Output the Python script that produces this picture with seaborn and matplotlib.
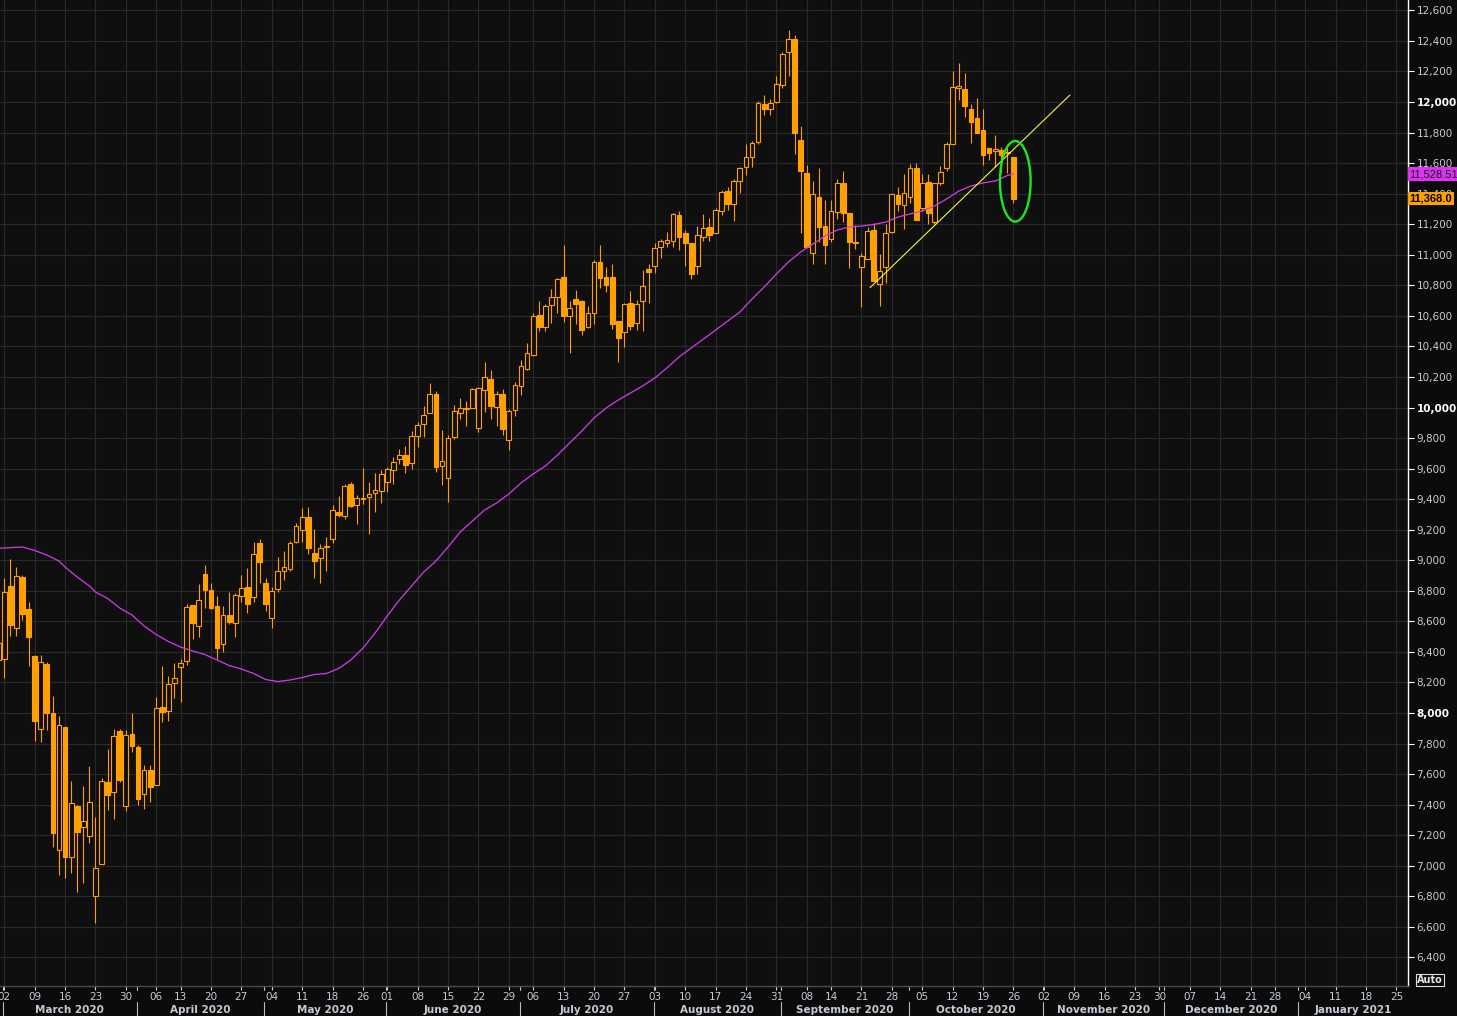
import numpy as np
import pandas as pd
import matplotlib
matplotlib.use("Agg")
import matplotlib.pyplot as plt
import matplotlib.transforms as mtransforms
from matplotlib.patches import Ellipse
import seaborn as sns

# trading calendar (exchange holidays removed)
holidays = ["2020-04-10", "2020-05-25", "2020-07-03", "2020-09-07",
            "2020-11-26", "2020-12-25"]
days = pd.bdate_range("2020-02-28", "2021-01-29")
days = days[~days.isin(pd.to_datetime(holidays))]

# daily OHLC, 28 Feb 2020 -> 26 Oct 2020
opens = [
    8350, 8351, 8831, 8559, 8890, 8681, 8373, 7893, 8321, 8000,
    7103, 7906, 7055, 7391, 7252, 7193, 6800, 7009, 7546, 7481,
    7882, 7393, 7863, 7778, 7472, 7627, 7531, 8039, 8015, 8194,
    8299, 8338, 8705, 8572, 8910, 8805, 8700, 8450, 8639, 8587,
    8764, 8822, 8757, 9111, 8849, 8624, 8810, 8928, 8943, 9117,
    9196, 9281, 9045, 9013, 9085, 9137, 9316, 9288, 9499, 9360,
    9408, 9412, 9438, 9451, 9515, 9589, 9661, 9687, 9639, 9816,
    9890, 9962, 10086, 9615, 9536, 9809, 9962, 9990, 9999, 9868,
    10116, 10184, 10006, 10086, 9785, 9981, 10139, 10254, 10346, 10603,
    10525, 10673, 10726, 10854, 10601, 10708, 10695, 10529, 10621, 10950,
    10854, 10854, 10564, 10492, 10682, 10555, 10699, 10905, 10929, 11053,
    11079, 11092, 11258, 11140, 11075, 10929, 11114, 11180, 11145, 11284,
    11417, 11330, 11480, 11577, 11638, 11740, 11987, 11952, 12002, 12109,
    12325, 12410, 11749, 11533, 11009, 11376, 11186, 11105, 11278, 11468,
    11273, 11085, 10918, 10970, 11160, 10806, 10918, 11147, 11391, 11324,
    11376, 11566, 11308, 11474, 11217, 11472, 11566, 11723, 12094, 12083,
    11952, 11893, 11817, 11699, 11677, 11684, 11670, 11638,
]
highs = [
    8600, 8882, 9008, 8958, 8903, 8727, 8380, 8380, 8336, 8111,
    7980, 7906, 7557, 7398, 7522, 7653, 7321, 7572, 7764, 7895,
    7895, 7889, 8000, 7790, 7660, 7660, 8107, 8308, 8242, 8330,
    8351, 8714, 8705, 8845, 8969, 8851, 8766, 8700, 8792, 8788,
    8903, 8947, 9122, 9140, 8886, 8827, 9024, 9061, 9128, 9246,
    9342, 9349, 9205, 9106, 9150, 9362, 9421, 9499, 9512, 9429,
    9604, 9512, 9571, 9591, 9613, 9678, 9728, 9748, 9846, 9903,
    10008, 10160, 10106, 9851, 9818, 10014, 10060, 10042, 10125, 10136,
    10298, 10243, 10106, 10119, 9992, 10169, 10311, 10420, 10619, 10697,
    10678, 10774, 10846, 11064, 10697, 10769, 10702, 10667, 10966, 11064,
    10920, 10939, 10564, 10682, 10760, 10702, 10900, 10939, 11074, 11103,
    11149, 11271, 11286, 11162, 11075, 11186, 11265, 11238, 11304, 11424,
    11446, 11496, 11577, 11725, 11745, 12009, 12046, 12020, 12172, 12329,
    12471, 12439, 11843, 11587, 11483, 11568, 11356, 11356, 11496, 11550,
    11273, 11195, 11009, 11184, 11206, 11005, 11201, 11402, 11441, 11526,
    11592, 11598, 11529, 11529, 11468, 11583, 11740, 12205, 12257, 12188,
    11987, 12024, 11952, 11699, 11784, 11708, 11697, 11642,
]
lows = [
    8130, 8227, 8506, 8506, 8609, 8310, 7819, 7812, 7889, 7125,
    6940, 6922, 6950, 6830, 6889, 7151, 6627, 7009, 7365, 7308,
    7550, 7361, 7745, 7398, 7372, 7420, 7531, 7943, 7948, 8098,
    8074, 8317, 8487, 8500, 8690, 8683, 8351, 8402, 8580, 8500,
    8729, 8652, 8729, 8853, 8670, 8554, 8794, 8871, 8932, 9111,
    9117, 9039, 8882, 8849, 8928, 9111, 9285, 9272, 9351, 9240,
    9371, 9174, 9318, 9373, 9447, 9501, 9630, 9573, 9600, 9744,
    9809, 9962, 9580, 9495, 9379, 9794, 9927, 9881, 9999, 9842,
    9973, 9927, 9881, 9822, 9724, 9942, 10080, 10248, 10339, 10503,
    10503, 10555, 10621, 10562, 10359, 10549, 10475, 10520, 10545, 10785,
    10756, 10516, 10300, 10398, 10510, 10510, 10503, 10686, 10878, 10981,
    11048, 11053, 11033, 10929, 10844, 10876, 11092, 11092, 11140, 11260,
    11293, 11223, 11406, 11524, 11572, 11725, 11917, 11917, 11991, 12094,
    12172, 11657, 11140, 11049, 10937, 11081, 10937, 11081, 11234, 11217,
    10915, 11035, 10656, 10970, 10830, 10662, 10817, 11140, 11284, 11166,
    11341, 11228, 11289, 11201, 11201, 11457, 11550, 11723, 12013, 11900,
    11734, 11795, 11588, 11620, 11577, 11533, 11533, 11341,
]
closes = [
    8458, 8790, 8576, 8897, 8650, 8500, 7950, 8332, 8002, 7217,
    7919, 7055, 7409, 7223, 7293, 7415, 6983, 7555, 7465, 7847,
    7561, 7856, 7786, 7439, 7627, 7518, 8031, 8009, 8190, 8227,
    8325, 8692, 8591, 8738, 8808, 8690, 8428, 8639, 8598, 8770,
    8820, 8716, 9039, 8986, 8716, 8797, 8930, 8954, 9111, 9222,
    9281, 9078, 8993, 9078, 9096, 9327, 9296, 9486, 9357, 9405,
    9399, 9434, 9458, 9563, 9595, 9645, 9687, 9626, 9811, 9883,
    9949, 10086, 9613, 9648, 9798, 9975, 9995, 9997, 10119, 10125,
    10198, 10012, 10086, 9862, 9975, 10145, 10270, 10355, 10597, 10529,
    10662, 10726, 10839, 10601, 10649, 10677, 10510, 10621, 10950, 10850,
    10804, 10549, 10457, 10675, 10536, 10675, 10793, 10889, 11042, 11088,
    11094, 11265, 11118, 11075, 10876, 11127, 11173, 11132, 11293, 11411,
    11330, 11483, 11566, 11638, 11729, 11991, 11952, 11991, 12116, 12312,
    12410, 11799, 11550, 11053, 11398, 11180, 11061, 11284, 11468, 11271,
    11086, 11075, 10990, 11153, 10830, 10891, 11140, 11396, 11334, 11406,
    11570, 11228, 11468, 11276, 11468, 11539, 11723, 12096, 12105, 11976,
    11871, 11799, 11651, 11664, 11690, 11653, 11664, 11368,
]

# moving average (trading-day position, value)
ma_pos = [0, 4, 6, 8, 10, 11, 13, 15, 16, 18, 20, 22, 24, 26, 28, 30, 32, 34,
          36, 38, 40, 42, 44, 46, 48, 50, 52, 54, 56, 58, 60, 62, 64, 66, 68,
          70, 72, 74, 76, 78, 80, 82, 84, 86, 88, 90, 92, 94, 96, 98, 100,
          102, 104, 106, 108, 110, 112, 114, 116, 118, 120, 122, 124, 126,
          128, 130, 132, 134, 136, 138, 140, 142, 144, 146, 148, 150, 152,
          154, 156, 158, 160, 162, 164, 166, 167]
ma_val = [9078, 9087, 9064, 9034, 8995, 8956, 8890, 8832, 8792, 8750, 8687,
          8642, 8570, 8514, 8468, 8432, 8406, 8383, 8347, 8311, 8288, 8259,
          8219, 8206, 8216, 8232, 8252, 8259, 8291, 8347, 8425, 8524, 8635,
          8740, 8832, 8923, 8995, 9087, 9185, 9257, 9329, 9375, 9434, 9506,
          9565, 9617, 9689, 9768, 9846, 9931, 9997, 10049, 10095, 10141,
          10193, 10259, 10331, 10390, 10448, 10507, 10566, 10625, 10710,
          10789, 10874, 10953, 11018, 11070, 11123, 11162, 11182, 11188,
          11198, 11214, 11247, 11267, 11286, 11319, 11365, 11417, 11450,
          11470, 11483, 11519, 11528.51]
ma_last = 11528.51
last_price = 11368.0

# hand-drawn trend line and highlight ellipse
trend_pos = [143.4, 176.3]
trend_val = [10784, 12046]
circle_center = (167.3, 11481)
circle_size = (5.05, 528)

yticks = list(range(6400, 12601, 200))

ORANGE = "#ffa000"
MAGENTA = "#d23cf0"
BG = "#0f0f0f"
TXT = "#c3ccd6"

sns.set_theme(style="dark", rc={"axes.facecolor": BG, "figure.facecolor": "#0b0b0b"})
plt.rcParams["font.family"] = ["DejaVu Sans"]

W, H = 1457, 1016
fig = plt.figure(figsize=(W / 100, H / 100), dpi=100)
ax = fig.add_axes([0, 30 / H, 1408 / W, 986 / H])
ax.set_facecolor(BG)

o = np.array(opens, dtype=float)
hi = np.array(highs, dtype=float)
lo = np.array(lows, dtype=float)
c = np.array(closes, dtype=float)
pos = np.arange(len(o))

# candles: wick, then body (hollow = up day)
ax.vlines(pos, lo, hi, colors=ORANGE, linewidth=0.8, zorder=3)
faces = np.where(c >= o, BG, ORANGE)
body_h = np.maximum(np.abs(c - o), 6)
ax.bar(pos, body_h, bottom=np.minimum(o, c), width=0.78, color=faces,
       edgecolor=ORANGE, linewidth=0.8, zorder=4)

# moving average + trend line
sns.lineplot(x=ma_pos, y=ma_val, color=MAGENTA, linewidth=0.9, ax=ax, zorder=5)
sns.lineplot(x=trend_pos, y=trend_val, color="#f5f53a", linewidth=0.8, ax=ax, zorder=6)
ax.add_patch(Ellipse(circle_center, circle_size[0], circle_size[1], fill=False,
                     edgecolor="#1ee61e", linewidth=1.7, zorder=7))

ax.set_xlim(0.3, 231.9)
ax.set_ylim(6212.8, 12667.8)

# week ticks (first trading day of each week)
wk = pd.Series(np.arange(len(days)), index=days)
iso = days.isocalendar()
first_of_week = wk.groupby([iso.year.values, iso.week.values]).min()
week_pos = [p for p in first_of_week.values if p >= 0.5]
ax.set_xticks(week_pos)
ax.set_xticklabels([days[p].strftime("%d") for p in week_pos])
ax.tick_params(axis="x", length=3, width=0.8, color="#cfcfcf", labelcolor=TXT,
               labelsize=7.5, pad=1, bottom=True)

ax.set_yticks(yticks)
ax.yaxis.tick_right()
ax.set_yticklabels([f"{v:,}" for v in yticks])
ax.tick_params(axis="y", length=4, width=0.8, color="#ffffff", labelcolor=TXT,
               labelsize=7.5, pad=2, right=True, left=False)
for lab, v in zip(ax.get_yticklabels(), yticks):
    if v % 2000 == 0:
        lab.set_fontweight("bold")
        lab.set_color("#ffffff")

ax.grid(True, color="#2a2a2a", linewidth=0.8)
ax.set_axisbelow(True)
for s in ["left", "top"]:
    ax.spines[s].set_visible(False)
ax.spines["right"].set_color("#ffffff")
ax.spines["right"].set_linewidth(1)
ax.spines["bottom"].set_color("#4a4a4a")
ax.spines["bottom"].set_linewidth(1)

# month labels and separators
trans = mtransforms.blended_transform_factory(ax.transData, ax.transAxes)
x0, x1 = ax.get_xlim()
month_key = days.to_period("M")
for m in month_key.unique():
    idx = np.where(month_key == m)[0]
    start = max(idx[0] - 0.2, x0)
    end = min(idx[-1] + 0.8, x1)
    if end - start < 4:
        continue
    ax.text((start + end) / 2, -0.0245, m.strftime("%B %Y"), transform=trans,
            ha="center", va="center", fontsize=7.5, fontweight="bold",
            color=TXT, clip_on=False)
    if idx[0] - 0.2 > x0:
        b = idx[0] - 0.2
        ax.plot([b, b], [-0.016, -0.032], transform=trans, color="#bdbdbd",
                linewidth=0.8, clip_on=False)
        ax.plot([b, b], [0, -0.004], transform=trans, color="#bdbdbd",
                linewidth=0.8, clip_on=False)

# last-value tags on the price scale
ytrans = mtransforms.blended_transform_factory(ax.transAxes, ax.transData)
ax.text(1.001, ma_last, f"{ma_last:,.2f}", transform=ytrans, ha="left",
        va="center", fontsize=8, color="#151515", clip_on=False, zorder=10,
        family=["Liberation Sans", "DejaVu Sans"],
        bbox=dict(boxstyle="square,pad=0.15", fc="#dc32f2", ec="none"))
ax.text(1.001, last_price, f"{last_price:,.1f}", transform=ytrans, ha="left",
        va="center", fontsize=8, fontweight="bold", color="#000000",
        clip_on=False, zorder=10, family=["Liberation Sans", "DejaVu Sans"],
        bbox=dict(boxstyle="square,pad=0.15", fc="#ffa000", ec="none"))

fig.text(1430 / W, 1 - 980 / H, "Auto", ha="center", va="center", fontsize=7,
         fontweight="bold", color="#e6e6e6",
         bbox=dict(boxstyle="square,pad=0.15", fc="none", ec="#dddddd", lw=0.8))

ax.set_xlabel("")
ax.set_ylabel("")
fig.savefig("out.png", dpi=100, facecolor=fig.get_facecolor())
